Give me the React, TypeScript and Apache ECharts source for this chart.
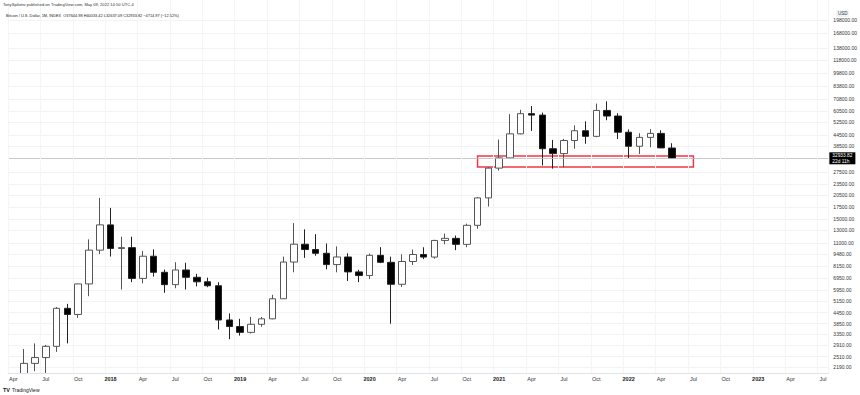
import React, { useEffect, useRef } from "react";
import * as echarts from "echarts";

// Months from Apr 2017 to Jul 2023 (axis extends past the data)
const START_YEAR = 2017;
const START_MONTH = 3; // April (0-based)
const MONTH_COUNT = 76;
const MONTH_NAMES = ["Jan", "Feb", "Mar", "Apr", "May", "Jun", "Jul", "Aug", "Sep", "Oct", "Nov", "Dec"];
const categories: string[] = [];
for (let i = 0; i < MONTH_COUNT; i++) {
  const m = (START_MONTH + i) % 12;
  const y = START_YEAR + Math.floor((START_MONTH + i) / 12);
  categories.push(`${MONTH_NAMES[m]} ${y}`);
}

// Monthly OHLC, Apr 2017 .. May 2022
const opens = [
  1080, 1348, 2300, 2480, 2870, 4700, 4340, 6450, 10000,
  13880, 10220, 10330, 6930, 9240, 7500, 6390, 7730, 7030, 6630, 6300, 4040,
  3710, 3440, 3820, 4100, 5320, 8570, 10800, 10080, 9600, 8290, 9150, 7540,
  7190, 9350, 8540, 6420, 8630, 9450, 9140, 11340, 11650, 10780, 13800, 19700,
  29000, 33100, 45240, 58800, 57700, 37300, 35000, 41500, 47100, 43800, 61300, 57000,
  46200, 38500, 43200, 45500, 37644.98,
];
const closes = [
  1348, 2300, 2480, 2870, 4700, 4340, 6450, 10000, 13880,
  10220, 10330, 6930, 9240, 7500, 6390, 7730, 7030, 6630, 6300, 4040, 3710,
  3440, 3820, 4100, 5320, 8570, 10800, 10080, 9600, 8290, 9150, 7540, 7190,
  9350, 8540, 6420, 8630, 9450, 9140, 11340, 11650, 10780, 13800, 19700, 29000,
  33100, 45240, 58800, 57700, 37300, 35000, 41500, 47100, 43800, 61300, 57000, 46200,
  38500, 43200, 45500, 37700, 32933.82,
];
const lows = [
  1060, 1345, 2080, 1830, 2670, 2980, 4150, 5500, 9500,
  9200, 6000, 6600, 6500, 7100, 5750, 6100, 6000, 6250, 6180, 3570, 3150,
  3300, 3390, 3700, 4080, 5330, 7500, 9050, 9300, 7800, 7500, 6700, 6600,
  6870, 8450, 3850, 6200, 8250, 8900, 8950, 10800, 10000, 10380, 13200, 17600,
  28100, 33000, 44960, 47000, 30000, 28800, 29300, 37300, 39800, 43300, 54000, 42300,
  33000, 34800, 38000, 37600, 32637.09,
];
const highs = [
  1350, 2770, 2980, 2920, 4780, 4980, 6470, 11500, 19700,
  17300, 11900, 11900, 9900, 10100, 7770, 8550, 8490, 7350, 7000, 6600, 4400,
  4100, 4200, 4200, 5600, 9200, 14200, 13100, 12300, 10900, 10500, 9600, 7750,
  9570, 10400, 9190, 9470, 10080, 10380, 11440, 12400, 12080, 14100, 19900, 29300,
  42000, 58400, 61800, 64900, 59600, 41800, 42400, 50500, 53200, 67000, 69000, 59100,
  47900, 45600, 48100, 47400, 40033.42,
];

const yTicks = [
  2190, 2510, 2910, 3350, 3850, 4450, 5150, 5950, 6950, 8150, 9480, 11000, 13000,
  15000, 17500, 20500, 23500, 27500, 38500, 44500, 52500, 60500, 70800, 83800,
  99800, 118000, 138000, 168000, 198000,
];

const lastPrice = 32933.82;
const zoneTop = 33900;
const zoneBottom = 29400;
const zoneStart = "Nov 2020";
const zoneEnd = "Jul 2022";

const headerLine1 = "TonySpilotro published on TradingView.com, May 09, 2022 14:50 UTC-4";
const headerTitle = "Bitcoin / U.S. Dollar, 1M, INDEX";
const headerValues = "O37644.98 H40033.42 L32637.09 C32933.82 \u22124714.97 (\u221212.52%)";

export default function App() {
  const ref = useRef<HTMLDivElement>(null);
  useEffect(() => {
    if (!ref.current) return;
    const chart = echarts.init(ref.current, undefined, { renderer: "svg" });
    const candleData = opens.map((o, i) => [o, closes[i], lows[i], highs[i]]);
    const showQuarter = (index: number) => index % 3 === 0;
    chart.setOption({
      animation: false,
      backgroundColor: "#ffffff",
      textStyle: { fontFamily: "Liberation Sans, Arial, sans-serif" },
      grid: { left: 8, right: 31, top: 0, bottom: 22, containLabel: false },
      xAxis: {
        type: "category",
        data: categories,
        boundaryGap: true,
        z: 10,
        axisLine: { show: true, lineStyle: { color: "#e0e3eb", width: 1 } },
        axisTick: { show: false },
        axisLabel: {
          interval: (index: number) => showQuarter(index),
          fontSize: 5.5,
          color: "#333",
          margin: 3,
          formatter: (v: string) => {
            const [m, y] = v.split(" ");
            if (m === "Jan") return `{y|${y}}`;
            return m;
          },
          rich: { y: { fontSize: 5.5, fontWeight: "bold", color: "#222" } },
        },
        splitLine: {
          show: true,
          interval: (index: number) => showQuarter(index),
          lineStyle: { color: "#f4f5f7", width: 1 },
        },
      },
      yAxis: {
        type: "log",
        position: "right",
        min: 2030,
        max: 257000,
        axisLine: { show: true, lineStyle: { color: "#e0e3eb", width: 1 } },
        axisTick: { show: false, customValues: yTicks },
        axisLabel: {
          customValues: yTicks,
          fontSize: 5,
          color: "#333",
          margin: 5,
          formatter: (v: number) => v.toFixed(2),
        },
        splitLine: { show: true, lineStyle: { color: "#f2f3f5", width: 1 } },
      },
      series: [
        {
          type: "candlestick",
          data: candleData,
          barWidth: 7,
          clip: true,
          z: 2,
          itemStyle: {
            color: "#ffffff",
            color0: "#000000",
            borderColor: "#555555",
            borderColor0: "#222222",
            borderWidth: 1,
          },
          markLine: {
            symbol: "none",
            silent: true,
            lineStyle: { color: "#b8bbc2", width: 0.8, type: "solid" },
            label: {
              position: "end",
              distance: 1,
              formatter: `${lastPrice.toFixed(2)}\n22d 11h`,
              backgroundColor: "#000000",
              color: "#ffffff",
              fontSize: 4.8,
              lineHeight: 5.5,
              padding: [0.5, 3, 0.5, 3],
            },
            data: [{ yAxis: lastPrice }],
          },
          markArea: {
            silent: true,
            itemStyle: {
              color: "rgba(255,255,255,0)",
              borderColor: "#f23645",
              borderWidth: 1.5,
            },
            data: [[
              { xAxis: zoneStart, yAxis: zoneTop },
              { xAxis: zoneEnd, yAxis: zoneBottom },
            ]],
          },
        },
      ],
      graphic: [
        {
          type: "rect",
          z: 5,
          silent: true,
          shape: { x: 0, y: 373.5, width: 829, height: 22 },
          style: { fill: "#ffffff" },
        },
        {
          type: "text",
          z: 20,
          left: 3,
          top: 2,
          style: { text: headerLine1, fontSize: 4.1, fill: "#333", fontFamily: "Liberation Sans" },
        },
        {
          type: "text",
          z: 20,
          left: 6,
          top: 13,
          style: {
            text: `${headerTitle}  ${headerValues}`,
            fontSize: 3.9,
            fill: "#222",
            fontFamily: "Liberation Sans",
          },
        },
        {
          type: "rect",
          z: 20,
          shape: { x: 836, y: 10, width: 13, height: 7, r: 1 },
          style: { fill: "#f0f3fa" },
        },
        {
          type: "text",
          z: 21,
          left: 838,
          top: 11,
          style: { text: "USD", fontSize: 4.5, fill: "#333", fontFamily: "Liberation Sans" },
        },
        {
          type: "text",
          z: 20,
          left: 3,
          top: 386.5,
          style: { text: "TV", fontSize: 5.5, fontWeight: "bold", fill: "#131722", fontFamily: "Liberation Sans" },
        },
        {
          type: "text",
          z: 20,
          left: 12,
          top: 387,
          style: { text: "TradingView", fontSize: 5, fill: "#131722", fontFamily: "Liberation Sans" },
        },
      ],
    });
    return () => chart.dispose();
  }, []);
  return (
    <div
      ref={ref}
      style={{ position: "absolute", left: 0, top: 0, width: 860, height: 395 }}
    />
  );
}
